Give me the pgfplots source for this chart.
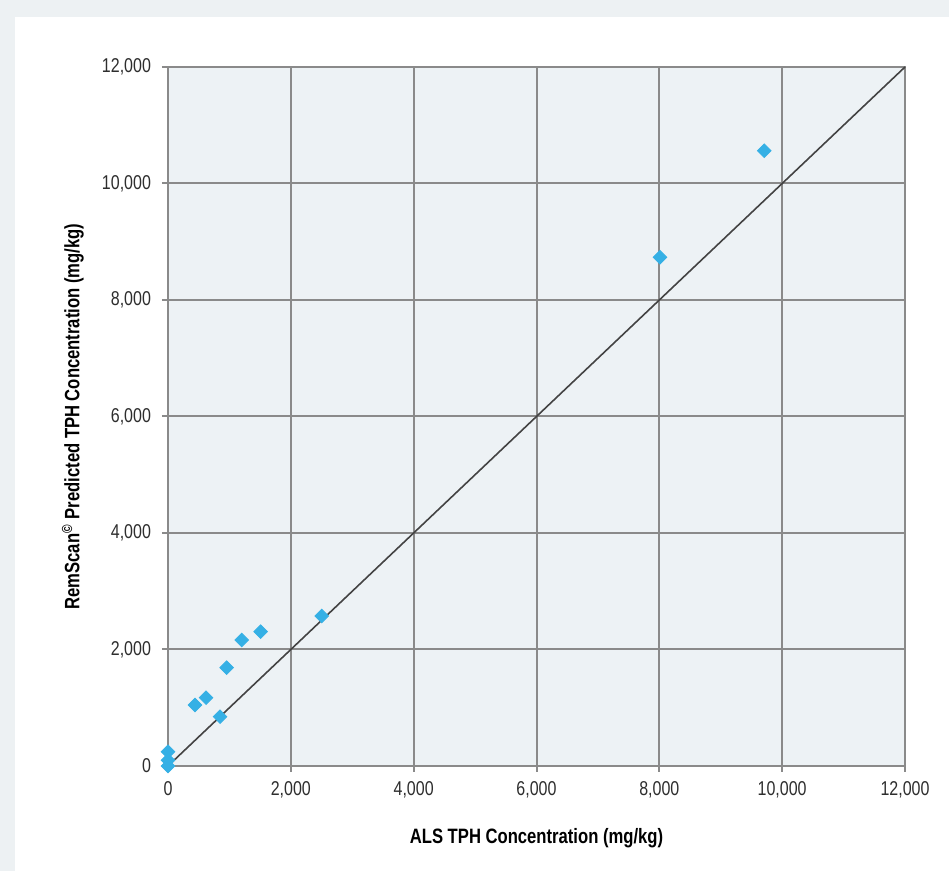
\documentclass[border=0pt]{standalone}
\usepackage{fontspec}
\setmainfont{Liberation Sans}[FakeStretch=0.8]
\usepackage{pgfplots}
\pgfplotsset{compat=1.18}
\definecolor{bgout}{HTML}{EDF1F3}
\definecolor{plotbg}{HTML}{EDF2F5}
\definecolor{gridc}{HTML}{8A8A8A}
\definecolor{mk}{HTML}{35B0E5}
\definecolor{txt}{HTML}{2E2E2E}
\begin{document}
\begin{tikzpicture}[x=1pt,y=1pt]
\fill[bgout] (0,0) rectangle (474.5,435.5);
\fill[white] (7.5,0) rectangle (474.5,427);
\begin{axis}[
  at={(84pt,52.5pt)}, anchor=south west,
  scale only axis, width=368.5pt, height=349.5pt,
  xmin=0, xmax=12000, ymin=0, ymax=12000,
  xtick={0,2000,...,12000}, ytick={0,2000,...,12000},
  tick pos=left,
  scaled ticks=false,
  /pgf/number format/assume math mode=true,
  /pgf/number format/1000 sep={,},
  axis background/.style={fill=plotbg},
  grid=major,
  major grid style={gridc, line width=1pt},
  axis line style={gridc, line width=1pt},
  tick style={gridc, line width=1pt},
  tick align=outside, major tick length=3pt,
  ticklabel style={text=txt, font=\fontsize{10}{12}\selectfont},
  xticklabel style={yshift=-1pt},
  yticklabel style={xshift=-2pt},
  xlabel={\textbf{ALS TPH Concentration (mg/kg)}},
  ylabel={\textbf{RemScan\textsuperscript{©} Predicted TPH Concentration (mg/kg)}},
  label style={text=black, font=\fontsize{10.4}{12}\selectfont},
  xlabel style={at={(axis description cs:0.5,-0.103)}, anchor=center},
  ylabel style={at={(axis description cs:-0.129,0.5)}, anchor=center},
  clip=false,
]
\addplot[color=txt!90, line width=0.8pt, no marks] coordinates {(0,0) (12000,12000)};
\addplot[only marks, mark=square*, mark size=2.4pt, mark options={rotate=45, fill=mk, draw=mk}] coordinates {
(0,245) (0,100) (0,0) (440,1047) (619,1173) (847,847) (955,1688)
(1200,2163) (1509,2306) (2502,2575) (8010,8733) (9708,10563)
};
\end{axis}
\end{tikzpicture}
\end{document}
